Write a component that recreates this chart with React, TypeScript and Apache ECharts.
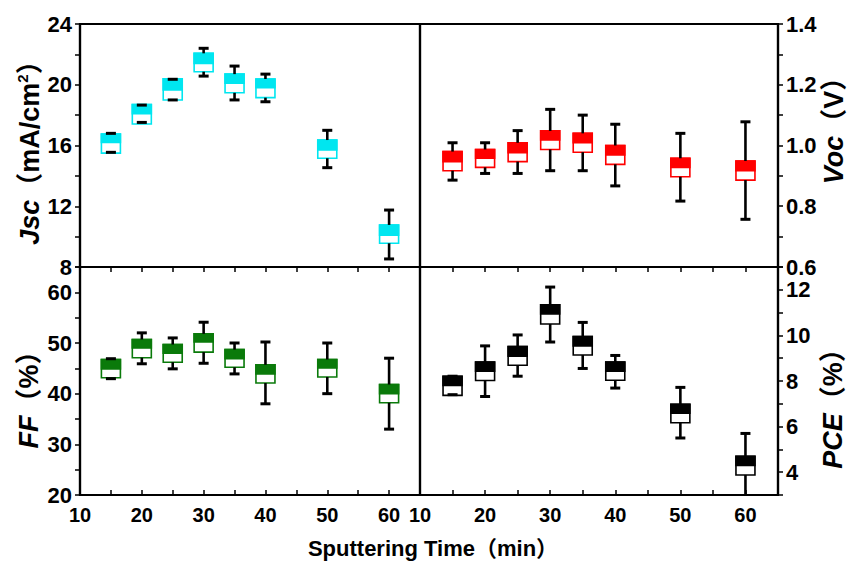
import React, { useEffect, useRef } from 'react';
import * as echarts from 'echarts';

const times = [15, 20, 25, 30, 35, 40, 50, 60];
const xTickLabels = [10, 20, 30, 40, 50, 60];

// each row: [min, q1, median, q3, max]
const jscStats = [
  [15.55, 15.5, 16.2, 16.75, 16.8],
  [17.52, 17.42, 18.1, 18.7, 18.66],
  [19.0, 19.0, 19.65, 20.4, 20.36],
  [20.57, 20.86, 21.4, 22.07, 22.4],
  [19.0, 19.47, 20.1, 20.7, 21.23],
  [18.88, 19.15, 19.8, 20.38, 20.7],
  [14.54, 15.16, 15.7, 16.36, 17.0],
  [8.53, 9.56, 10.1, 10.77, 11.75],
];
const vocStats = [
  [0.886, 0.917, 0.947, 0.98, 1.009],
  [0.908, 0.928, 0.958, 0.987, 1.009],
  [0.908, 0.947, 0.976, 1.009, 1.049],
  [0.917, 0.987, 1.018, 1.048, 1.119],
  [0.917, 0.978, 1.009, 1.04, 1.1],
  [0.867, 0.938, 0.969, 1.0, 1.07],
  [0.817, 0.897, 0.928, 0.958, 1.04],
  [0.757, 0.886, 0.917, 0.949, 1.078],
];
const ffStats = [
  [42.96, 43.15, 44.9, 46.75, 46.9],
  [45.9, 47.1, 49.0, 50.7, 52.0],
  [44.9, 46.2, 48.0, 49.7, 51.0],
  [46.0, 48.2, 50.2, 51.8, 54.1],
  [43.9, 45.2, 46.9, 48.7, 50.0],
  [38.0, 42.1, 43.9, 45.7, 50.2],
  [40.0, 43.3, 45.1, 46.75, 50.0],
  [33.0, 38.2, 40.0, 41.8, 47.0],
];
const pceStats = [
  [7.4, 7.37, 7.8, 8.21, 8.21],
  [7.32, 8.02, 8.43, 8.83, 9.54],
  [8.21, 8.69, 9.09, 9.51, 10.02],
  [9.71, 10.5, 10.94, 11.34, 12.12],
  [8.55, 9.14, 9.54, 9.95, 10.57],
  [7.69, 8.03, 8.43, 8.83, 9.12],
  [5.5, 6.17, 6.59, 6.98, 7.72],
  [2.5, 3.88, 4.3, 4.7, 5.7],
];

const jscTicks = [8, 12, 16, 20, 24];
const vocTicks = [0.6, 0.8, 1.0, 1.2, 1.4];
const ffTicks = [20, 30, 40, 50, 60];
const pceTicks = [4, 6, 8, 10, 12];

const FONT = "Arial, 'Liberation Sans', 'Noto Sans CJK SC', sans-serif";

const makeRender = (color: string) => (params: any, api: any) => {
  const x = api.value(0);
  const v = [1, 2, 3, 4, 5].map((i) => api.value(i));
  const cx = api.coord([x, v[0]])[0];
  const yMin = api.coord([x, v[0]])[1];
  const yQ1 = api.coord([x, v[1]])[1];
  const yMed = api.coord([x, v[2]])[1];
  const yQ3 = api.coord([x, v[3]])[1];
  const yMax = api.coord([x, v[4]])[1];
  const bw = 19;
  const cw = 10;
  const children: any[] = [
    {
      type: 'rect',
      shape: { x: cx - bw / 2, y: yQ3, width: bw, height: yQ1 - yQ3 },
      style: { fill: '#fff', stroke: color, lineWidth: 1.6 },
    },
    {
      type: 'rect',
      shape: { x: cx - bw / 2, y: yQ3, width: bw, height: yMed - yQ3 },
      style: { fill: color, stroke: color, lineWidth: 1.6 },
    },
  ];
  const ls = { stroke: '#000', lineWidth: 2.6 };
  if (yMin > yQ1) children.push({ type: 'line', shape: { x1: cx, y1: yQ1, x2: cx, y2: yMin }, style: ls });
  if (yMax < yQ3) children.push({ type: 'line', shape: { x1: cx, y1: yQ3, x2: cx, y2: yMax }, style: ls });
  children.push({ type: 'line', shape: { x1: cx - cw / 2, y1: yMin, x2: cx + cw / 2, y2: yMin }, style: { stroke: '#000', lineWidth: 3 } });
  children.push({ type: 'line', shape: { x1: cx - cw / 2, y1: yMax, x2: cx + cw / 2, y2: yMax }, style: { stroke: '#000', lineWidth: 3 } });
  return { type: 'group', children };
};

const near = (v: number, list: number[]) => list.some((t) => Math.abs(t - v) < 1e-6);

export default function App() {
  const ref = useRef<HTMLDivElement>(null);
  useEffect(() => {
    document.body.style.margin = '0';
    const chart = echarts.init(ref.current!, null, { renderer: 'svg' });
    const gridBase = { show: true, borderColor: '#000', borderWidth: 2.2, containLabel: false };
    const xCommon = (gridIndex: number, position: string, labels: boolean, ticks: boolean) => ({
      type: 'value',
      gridIndex,
      position,
      min: 10,
      max: 65,
      interval: 5,
      axisLine: { show: true, onZero: false, lineStyle: { color: '#000', width: 2.2 } },
      axisTick: { show: ticks, inside: true, length: 5, lineStyle: { color: '#000', width: 1.5 } },
      axisLabel: {
        show: labels,
        margin: 10,
        color: '#000',
        fontWeight: 'bold',
        fontSize: 20,
        fontFamily: FONT,
        formatter: (v: number) => (near(v, xTickLabels) ? String(v) : ''),
      },
      splitLine: { show: false },
    });
    const yCommon = (gridIndex: number, position: string, min: number, max: number, interval: number, labels: number[], digits: number) => ({
      type: 'value',
      gridIndex,
      position,
      min,
      max,
      interval,
      axisLine: { show: true, onZero: false, lineStyle: { color: '#000', width: 2.2 } },
      axisTick: { show: true, inside: false, length: 5, lineStyle: { color: '#000', width: 1.5 } },
      axisLabel: {
        margin: 8,
        color: '#000',
        fontWeight: 'bold',
        fontSize: 22,
        fontFamily: FONT,
        formatter: (v: number) => (near(v, labels) ? v.toFixed(digits) : ''),
      },
      splitLine: { show: false },
    });
    const mk = (stats: number[][]) => times.map((t, i) => [t, ...stats[i]]);
    const series = [
      { stats: jscStats, color: '#00e6f0', idx: 0 },
      { stats: vocStats, color: '#ff0000', idx: 1 },
      { stats: ffStats, color: '#0a7a0a', idx: 2 },
      { stats: pceStats, color: '#000000', idx: 3 },
    ].map((s) => ({
      type: 'custom',
      xAxisIndex: s.idx,
      yAxisIndex: s.idx,
      clip: true,
      renderItem: makeRender(s.color),
      encode: { x: 0, y: [1, 2, 3, 4, 5] },
      data: mk(s.stats),
    }));
    const titleRich = {
      i: { fontStyle: 'italic', fontWeight: 'bold', fontSize: 27, fontFamily: FONT, fill: '#000', lineHeight: 30 },
      n: { fontWeight: 'bold', fontSize: 27, fontFamily: FONT, fill: '#000', lineHeight: 30 },
      s: { fontWeight: 'bold', fontSize: 15, fontFamily: FONT, fill: '#000', verticalAlign: 'top', lineHeight: 30 },
    };
    const vText = (x: number, y: number, text: string) => ({
      type: 'text',
      x,
      y,
      rotation: Math.PI / 2,
      style: { text, rich: titleRich, align: 'center', verticalAlign: 'middle' },
    });
    chart.setOption({
      animation: false,
      backgroundColor: '#fff',
      grid: [
        { ...gridBase, left: 80, top: 24, width: 340, height: 243 },
        { ...gridBase, left: 420, top: 24, width: 358, height: 243 },
        { ...gridBase, left: 80, top: 267, width: 340, height: 228 },
        { ...gridBase, left: 420, top: 267, width: 358, height: 228 },
      ],
      xAxis: [
        xCommon(0, 'bottom', false, false),
        xCommon(1, 'bottom', false, false),
        xCommon(2, 'bottom', true, true),
        xCommon(3, 'bottom', true, true),
        xCommon(2, 'top', false, true),
        xCommon(3, 'top', false, true),
      ],
      yAxis: [
        yCommon(0, 'left', 8, 24, 2, jscTicks, 0),
        yCommon(1, 'right', 0.6, 1.4, 0.1, vocTicks, 1),
        yCommon(2, 'left', 20, 65, 5, ffTicks, 0),
        yCommon(3, 'right', 3, 13, 1, pceTicks, 0),
      ],
      series,
      graphic: [
        vText(30, 146, '{i|Jsc}{n|（mA/cm}{s|2}{n|）}'),
        vText(834, 124, '{i|Voc}{n|（V）}'),
        vText(29, 393, '{i|FF}{n|（%）}'),
        vText(833, 402, '{i|PCE}{n|（%）}'),
        {
          type: 'text',
          x: 433,
          y: 548,
          style: {
            text: 'Sputtering Time（min）',
            font: `bold 22px ${FONT}`,
            fill: '#000',
            align: 'center',
            verticalAlign: 'middle',
          },
        },
      ],
    });
    return () => chart.dispose();
  }, []);
  return <div ref={ref} style={{ width: 851, height: 563 }} />;
}
